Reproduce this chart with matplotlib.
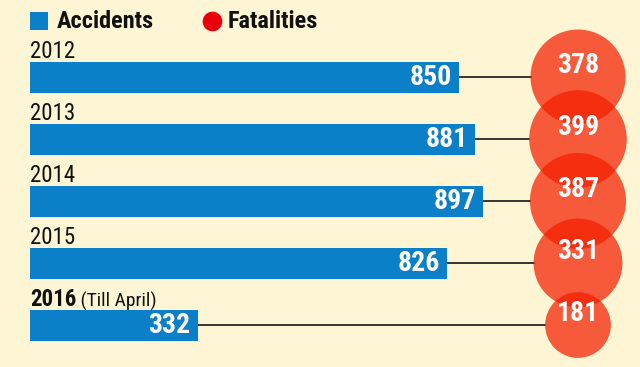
import matplotlib.pyplot as plt
import numpy as np

# accidents and fatalities by year
years = ['2012', '2013', '2014', '2015', '2016']
accidents = [850, 881, 897, 826, 332]
fatalities = [378, 399, 387, 331, 181]

bg = '#fdf5d3'
blue = '#0b7fc7'
red = '#f51e00'
FONT = ['Roboto Condensed', 'DejaVu Sans']

fig = plt.figure(figsize=(6.4, 3.67), dpi=100, facecolor=bg)
ax = fig.add_axes([0, 0, 1, 1], facecolor=bg)

# bars start at x pixel 30, 850 ends at pixel 459
pxu = 850 / 429.0
ax.set_xlim(-30 * pxu, 610 * pxu)
ax.set_ylim(4.677, -1.242)
ax.axis('off')

y = np.arange(len(years))
cx = 548 * pxu  # circle column

ax.barh(y, accidents, height=0.5, color=blue, zorder=2)

# circle area proportional to value
sizes = [12.37 * v for v in fatalities]
radius_px = [2.443 * np.sqrt(v) for v in fatalities]
for yi, a, r in zip(y, accidents, radius_px):
    ax.plot([a, cx - r * pxu], [yi, yi], color='#141414', lw=1.2, zorder=1)
ax.scatter([cx] * len(y), y, s=sizes, color=red, alpha=0.72, linewidths=0, zorder=3)

for yi, a, f in zip(y, accidents, fatalities):
    ax.annotate(str(a), (a, yi), xytext=(-5, 0), textcoords='offset points',
                ha='right', va='center', color='white', fontsize=20,
                fontweight='bold', family=FONT, zorder=4)
    ax.annotate(str(f), (cx, yi), xytext=(0, 3), textcoords='offset points',
                ha='center', va='baseline', color='white', fontsize=20,
                fontweight='bold', family=FONT, zorder=4)

for yi, yr in zip(y, years):
    if yr == '2016':
        t = ax.text(0, yi - 0.3, yr, ha='left', va='baseline', fontsize=16.5,
                    fontweight='bold', family=FONT, color='#111111')
        ax.annotate(' (Till April)', xycoords=t, xy=(1, 0), va='bottom',
                    fontsize=14, family=FONT, color='#111111')
    else:
        ax.text(0, yi - 0.3, yr, ha='left', va='baseline', fontsize=16.5,
                family=FONT, color='#111111')

# legend
ax.scatter([9 * pxu], [-0.9], marker='s', s=170, color=blue, linewidths=0)
ax.text(27 * pxu, -0.9, 'Accidents', ha='left', va='center', fontsize=17.5,
        fontweight='bold', family=FONT, color='#111111')
ax.scatter([182 * pxu], [-0.9], marker='o', s=200, color='#e8000b', linewidths=0)
ax.text(198 * pxu, -0.9, 'Fatalities', ha='left', va='center', fontsize=17.5,
        fontweight='bold', family=FONT, color='#111111')

fig.savefig('out.png', dpi=100, facecolor=bg)
